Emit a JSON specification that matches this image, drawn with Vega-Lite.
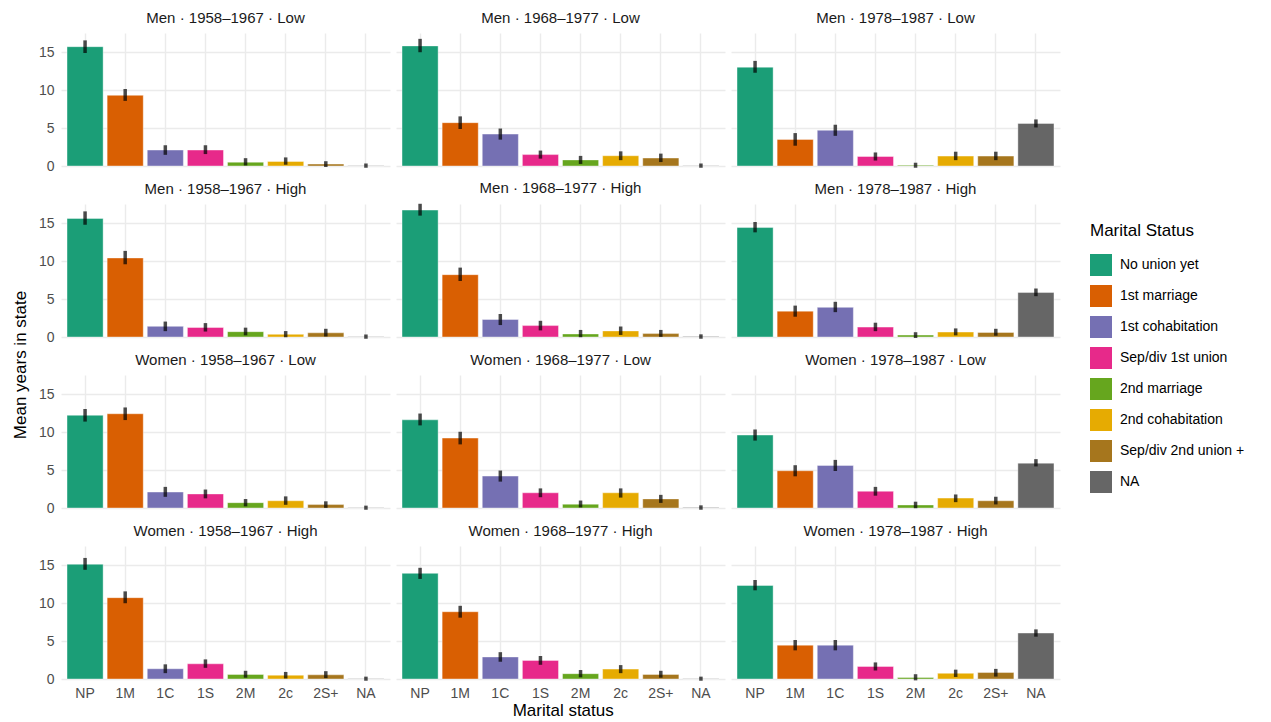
{
  "$schema": "https://vega.github.io/schema/vega-lite/v6.json",
  "padding": {"left": 12, "top": 11, "right": 5, "bottom": 0},
  "background": "white",
  "title": {"text": "Mean years in state", "orient": "left", "anchor": "middle", "fontSize": 17, "fontWeight": "normal", "color": "#000000", "offset": 8, "font": "Liberation Sans"},
  "datasets": {
    "states": [
      {"code": "NP", "status": "No union yet"},
      {"code": "1M", "status": "1st marriage"},
      {"code": "1C", "status": "1st cohabitation"},
      {"code": "1S", "status": "Sep/div 1st union"},
      {"code": "2M", "status": "2nd marriage"},
      {"code": "2c", "status": "2nd cohabitation"},
      {"code": "2S+", "status": "Sep/div 2nd union +"},
      {"code": "NA", "status": "NA"}
    ],
    "main": [
      {"panel": "Men · 1958–1967 · Low", "code": "NP", "mean": 15.7, "lo": 15.1, "hi": 16.3},
      {"panel": "Men · 1958–1967 · Low", "code": "1M", "mean": 9.3, "lo": 8.8, "hi": 9.9},
      {"panel": "Men · 1958–1967 · Low", "code": "1C", "mean": 2.1, "lo": 1.7, "hi": 2.5},
      {"panel": "Men · 1958–1967 · Low", "code": "1S", "mean": 2.1, "lo": 1.8, "hi": 2.5},
      {"panel": "Men · 1958–1967 · Low", "code": "2M", "mean": 0.5, "lo": 0.3, "hi": 0.8},
      {"panel": "Men · 1958–1967 · Low", "code": "2c", "mean": 0.6, "lo": 0.4, "hi": 0.9},
      {"panel": "Men · 1958–1967 · Low", "code": "2S+", "mean": 0.25, "lo": 0.1, "hi": 0.4},
      {"panel": "Men · 1958–1967 · Low", "code": "NA", "mean": 0.02, "lo": 0, "hi": 0.1},

      {"panel": "Men · 1968–1977 · Low", "code": "NP", "mean": 15.8, "lo": 15.2, "hi": 16.5},
      {"panel": "Men · 1968–1977 · Low", "code": "1M", "mean": 5.7, "lo": 5.1, "hi": 6.3},
      {"panel": "Men · 1968–1977 · Low", "code": "1C", "mean": 4.2, "lo": 3.7, "hi": 4.7},
      {"panel": "Men · 1968–1977 · Low", "code": "1S", "mean": 1.5, "lo": 1.2, "hi": 1.8},
      {"panel": "Men · 1968–1977 · Low", "code": "2M", "mean": 0.8, "lo": 0.5, "hi": 1.1},
      {"panel": "Men · 1968–1977 · Low", "code": "2c", "mean": 1.35, "lo": 1.0, "hi": 1.7},
      {"panel": "Men · 1968–1977 · Low", "code": "2S+", "mean": 1.05, "lo": 0.75, "hi": 1.4},
      {"panel": "Men · 1968–1977 · Low", "code": "NA", "mean": 0.03, "lo": 0, "hi": 0.1},

      {"panel": "Men · 1978–1987 · Low", "code": "NP", "mean": 13.0, "lo": 12.5, "hi": 13.6},
      {"panel": "Men · 1978–1987 · Low", "code": "1M", "mean": 3.5, "lo": 2.9, "hi": 4.1},
      {"panel": "Men · 1978–1987 · Low", "code": "1C", "mean": 4.7, "lo": 4.2, "hi": 5.2},
      {"panel": "Men · 1978–1987 · Low", "code": "1S", "mean": 1.25, "lo": 0.95, "hi": 1.55},
      {"panel": "Men · 1978–1987 · Low", "code": "2M", "mean": 0.1, "lo": 0, "hi": 0.2},
      {"panel": "Men · 1978–1987 · Low", "code": "2c", "mean": 1.3, "lo": 1.0, "hi": 1.65},
      {"panel": "Men · 1978–1987 · Low", "code": "2S+", "mean": 1.3, "lo": 1.0, "hi": 1.65},
      {"panel": "Men · 1978–1987 · Low", "code": "NA", "mean": 5.6, "lo": 5.3, "hi": 5.9},

      {"panel": "Men · 1958–1967 · High", "code": "NP", "mean": 15.6, "lo": 15.0, "hi": 16.3},
      {"panel": "Men · 1958–1967 · High", "code": "1M", "mean": 10.4, "lo": 9.8, "hi": 11.1},
      {"panel": "Men · 1958–1967 · High", "code": "1C", "mean": 1.4, "lo": 1.0, "hi": 1.8},
      {"panel": "Men · 1958–1967 · High", "code": "1S", "mean": 1.25, "lo": 0.95, "hi": 1.6},
      {"panel": "Men · 1958–1967 · High", "code": "2M", "mean": 0.7, "lo": 0.45, "hi": 1.0},
      {"panel": "Men · 1958–1967 · High", "code": "2c", "mean": 0.35, "lo": 0.2, "hi": 0.55},
      {"panel": "Men · 1958–1967 · High", "code": "2S+", "mean": 0.55, "lo": 0.3, "hi": 0.85},
      {"panel": "Men · 1958–1967 · High", "code": "NA", "mean": 0.02, "lo": 0, "hi": 0.1},

      {"panel": "Men · 1968–1977 · High", "code": "NP", "mean": 16.7, "lo": 16.2, "hi": 17.3},
      {"panel": "Men · 1968–1977 · High", "code": "1M", "mean": 8.2, "lo": 7.6, "hi": 8.9},
      {"panel": "Men · 1968–1977 · High", "code": "1C", "mean": 2.3, "lo": 1.8, "hi": 2.8},
      {"panel": "Men · 1968–1977 · High", "code": "1S", "mean": 1.5, "lo": 1.1, "hi": 1.9},
      {"panel": "Men · 1968–1977 · High", "code": "2M", "mean": 0.4, "lo": 0.2, "hi": 0.7},
      {"panel": "Men · 1968–1977 · High", "code": "2c", "mean": 0.8, "lo": 0.5, "hi": 1.15},
      {"panel": "Men · 1968–1977 · High", "code": "2S+", "mean": 0.45, "lo": 0.25, "hi": 0.7},
      {"panel": "Men · 1968–1977 · High", "code": "NA", "mean": 0.05, "lo": 0, "hi": 0.12},

      {"panel": "Men · 1978–1987 · High", "code": "NP", "mean": 14.4, "lo": 14.0, "hi": 14.9},
      {"panel": "Men · 1978–1987 · High", "code": "1M", "mean": 3.4, "lo": 2.9, "hi": 3.9},
      {"panel": "Men · 1978–1987 · High", "code": "1C", "mean": 3.9, "lo": 3.5, "hi": 4.4},
      {"panel": "Men · 1978–1987 · High", "code": "1S", "mean": 1.3, "lo": 1.0, "hi": 1.65},
      {"panel": "Men · 1978–1987 · High", "code": "2M", "mean": 0.25, "lo": 0.1, "hi": 0.4},
      {"panel": "Men · 1978–1987 · High", "code": "2c", "mean": 0.65, "lo": 0.45, "hi": 0.9},
      {"panel": "Men · 1978–1987 · High", "code": "2S+", "mean": 0.6, "lo": 0.4, "hi": 0.85},
      {"panel": "Men · 1978–1987 · High", "code": "NA", "mean": 5.85, "lo": 5.6, "hi": 6.15},

      {"panel": "Women · 1958–1967 · Low", "code": "NP", "mean": 12.2, "lo": 11.6, "hi": 12.8},
      {"panel": "Women · 1958–1967 · Low", "code": "1M", "mean": 12.4, "lo": 11.8, "hi": 13.0},
      {"panel": "Women · 1958–1967 · Low", "code": "1C", "mean": 2.1, "lo": 1.7, "hi": 2.55},
      {"panel": "Women · 1958–1967 · Low", "code": "1S", "mean": 1.85, "lo": 1.5, "hi": 2.2},
      {"panel": "Women · 1958–1967 · Low", "code": "2M", "mean": 0.7, "lo": 0.45, "hi": 0.95},
      {"panel": "Women · 1958–1967 · Low", "code": "2c", "mean": 0.95, "lo": 0.65, "hi": 1.3},
      {"panel": "Women · 1958–1967 · Low", "code": "2S+", "mean": 0.45, "lo": 0.25, "hi": 0.65},
      {"panel": "Women · 1958–1967 · Low", "code": "NA", "mean": 0.02, "lo": 0, "hi": 0.08},

      {"panel": "Women · 1968–1977 · Low", "code": "NP", "mean": 11.6, "lo": 11.1, "hi": 12.2},
      {"panel": "Women · 1968–1977 · Low", "code": "1M", "mean": 9.2, "lo": 8.6, "hi": 9.8},
      {"panel": "Women · 1968–1977 · Low", "code": "1C", "mean": 4.2, "lo": 3.7, "hi": 4.7},
      {"panel": "Women · 1968–1977 · Low", "code": "1S", "mean": 2.0, "lo": 1.65, "hi": 2.35},
      {"panel": "Women · 1968–1977 · Low", "code": "2M", "mean": 0.5, "lo": 0.3, "hi": 0.75},
      {"panel": "Women · 1968–1977 · Low", "code": "2c", "mean": 2.0, "lo": 1.6, "hi": 2.35},
      {"panel": "Women · 1968–1977 · Low", "code": "2S+", "mean": 1.2, "lo": 0.9, "hi": 1.5},
      {"panel": "Women · 1968–1977 · Low", "code": "NA", "mean": 0.05, "lo": 0, "hi": 0.12},

      {"panel": "Women · 1978–1987 · Low", "code": "NP", "mean": 9.6, "lo": 9.1, "hi": 10.1},
      {"panel": "Women · 1978–1987 · Low", "code": "1M", "mean": 4.9, "lo": 4.4, "hi": 5.4},
      {"panel": "Women · 1978–1987 · Low", "code": "1C", "mean": 5.6, "lo": 5.1, "hi": 6.1},
      {"panel": "Women · 1978–1987 · Low", "code": "1S", "mean": 2.2, "lo": 1.85, "hi": 2.55},
      {"panel": "Women · 1978–1987 · Low", "code": "2M", "mean": 0.4, "lo": 0.2, "hi": 0.6},
      {"panel": "Women · 1978–1987 · Low", "code": "2c", "mean": 1.3, "lo": 1.0, "hi": 1.55},
      {"panel": "Women · 1978–1987 · Low", "code": "2S+", "mean": 0.95, "lo": 0.7, "hi": 1.25},
      {"panel": "Women · 1978–1987 · Low", "code": "NA", "mean": 5.9, "lo": 5.7, "hi": 6.2},

      {"panel": "Women · 1958–1967 · High", "code": "NP", "mean": 15.1, "lo": 14.6, "hi": 15.7},
      {"panel": "Women · 1958–1967 · High", "code": "1M", "mean": 10.7, "lo": 10.2, "hi": 11.3},
      {"panel": "Women · 1958–1967 · High", "code": "1C", "mean": 1.35, "lo": 1.0, "hi": 1.7},
      {"panel": "Women · 1958–1967 · High", "code": "1S", "mean": 2.0, "lo": 1.7, "hi": 2.35},
      {"panel": "Women · 1958–1967 · High", "code": "2M", "mean": 0.6, "lo": 0.4, "hi": 0.85},
      {"panel": "Women · 1958–1967 · High", "code": "2c", "mean": 0.5, "lo": 0.3, "hi": 0.7},
      {"panel": "Women · 1958–1967 · High", "code": "2S+", "mean": 0.55, "lo": 0.35, "hi": 0.8},
      {"panel": "Women · 1958–1967 · High", "code": "NA", "mean": 0.02, "lo": 0, "hi": 0.08},

      {"panel": "Women · 1968–1977 · High", "code": "NP", "mean": 13.9, "lo": 13.4, "hi": 14.4},
      {"panel": "Women · 1968–1977 · High", "code": "1M", "mean": 8.85, "lo": 8.3, "hi": 9.4},
      {"panel": "Women · 1968–1977 · High", "code": "1C", "mean": 2.9, "lo": 2.5, "hi": 3.3},
      {"panel": "Women · 1968–1977 · High", "code": "1S", "mean": 2.45, "lo": 2.1, "hi": 2.8},
      {"panel": "Women · 1968–1977 · High", "code": "2M", "mean": 0.7, "lo": 0.45, "hi": 0.95},
      {"panel": "Women · 1968–1977 · High", "code": "2c", "mean": 1.3, "lo": 1.0, "hi": 1.6},
      {"panel": "Women · 1968–1977 · High", "code": "2S+", "mean": 0.6, "lo": 0.4, "hi": 0.85},
      {"panel": "Women · 1968–1977 · High", "code": "NA", "mean": 0.03, "lo": 0, "hi": 0.08},

      {"panel": "Women · 1978–1987 · High", "code": "NP", "mean": 12.3, "lo": 11.9, "hi": 12.8},
      {"panel": "Women · 1978–1987 · High", "code": "1M", "mean": 4.45, "lo": 4.0, "hi": 4.9},
      {"panel": "Women · 1978–1987 · High", "code": "1C", "mean": 4.45, "lo": 4.0, "hi": 4.9},
      {"panel": "Women · 1978–1987 · High", "code": "1S", "mean": 1.65, "lo": 1.35, "hi": 1.95},
      {"panel": "Women · 1978–1987 · High", "code": "2M", "mean": 0.2, "lo": 0.05, "hi": 0.4},
      {"panel": "Women · 1978–1987 · High", "code": "2c", "mean": 0.75, "lo": 0.5, "hi": 1.0},
      {"panel": "Women · 1978–1987 · High", "code": "2S+", "mean": 0.85, "lo": 0.55, "hi": 1.1},
      {"panel": "Women · 1978–1987 · High", "code": "NA", "mean": 6.05, "lo": 5.8, "hi": 6.3}
    ]
  },
  "vconcat": [
    {
      "title": {"text": "Marital status", "orient": "bottom", "anchor": "middle", "fontSize": 17, "fontWeight": "normal", "color": "#000000", "offset": 3, "dx": 14, "font": "Liberation Sans"},
      "data": {"name": "main"},
      "transform": [
        {"lookup": "code", "from": {"data": {"name": "states"}, "key": "code", "fields": ["status"]}}
      ],
      "facet": {
        "field": "panel",
        "type": "nominal",
        "sort": [
          "Men · 1958–1967 · Low", "Men · 1968–1977 · Low", "Men · 1978–1987 · Low",
          "Men · 1958–1967 · High", "Men · 1968–1977 · High", "Men · 1978–1987 · High",
          "Women · 1958–1967 · Low", "Women · 1968–1977 · Low", "Women · 1978–1987 · Low",
          "Women · 1958–1967 · High", "Women · 1968–1977 · High", "Women · 1978–1987 · High"
        ],
        "header": {
          "title": null,
          "labelFontSize": 15,
          "labelColor": "#1a1a1a",
          "labelFont": "Liberation Sans",
          "labelPadding": 7
        }
      },
      "columns": 3,
      "spacing": {"column": 6, "row": 12},
      "spec": {
        "width": 329,
        "height": 133,
        "layer": [
          {
            "mark": {"type": "bar", "stroke": "white", "strokeWidth": 0.8, "strokeOpacity": 0.5},
            "encoding": {
              "x": {
                "field": "code",
                "type": "nominal",
                "sort": ["NP", "1M", "1C", "1S", "2M", "2c", "2S+", "NA"],
                "scale": {"paddingInner": 0.1, "paddingOuter": 0.15},
                "title": null,
                "axis": {
                  "grid": true,
                  "bandPosition": 0.5,
                  "labelAngle": 0
                }
              },
              "y": {
                "field": "mean",
                "type": "quantitative",
                "scale": {"domain": [0, 17.5], "nice": false, "zero": true},
                "title": null,
                "axis": {
                  "values": [0, 2.5, 5, 7.5, 10, 12.5, 15, 17.5],
                  "labelExpr": "datum.value % 5 === 0 ? datum.label : ''",
                  "labelPadding": 7,
                  "gridWidth": {"condition": {"test": "datum.value % 5 === 0", "value": 1.4}, "value": 0.7}
                }
              },
              "color": {
                "field": "status",
                "type": "nominal",
                "sort": ["No union yet", "1st marriage", "1st cohabitation", "Sep/div 1st union", "2nd marriage", "2nd cohabitation", "Sep/div 2nd union +", "NA"],
                "scale": {
                  "domain": ["No union yet", "1st marriage", "1st cohabitation", "Sep/div 1st union", "2nd marriage", "2nd cohabitation", "Sep/div 2nd union +", "NA"],
                  "range": ["#1B9E77", "#D95F02", "#7570B3", "#E7298A", "#66A61E", "#E6AB02", "#A6761D", "#666666"]
                },
                "title": "Marital Status",
                "legend": {
                  "orient": "none",
                  "legendX": 1029,
                  "legendY": 190
                }
              }
            }
          },
          {
            "mark": {"type": "rule", "color": "black", "strokeWidth": 3.5, "opacity": 0.7, "strokeCap": "square"},
            "encoding": {
              "x": {"field": "code", "type": "nominal", "sort": ["NP", "1M", "1C", "1S", "2M", "2c", "2S+", "NA"]},
              "y": {"field": "lo", "type": "quantitative"},
              "y2": {"field": "hi"}
            }
          }
        ]
      }
    }
  ],
  "config": {
    "font": "Liberation Sans",
    "view": {"stroke": null},
    "axis": {
      "domain": false,
      "ticks": false,
      "gridColor": "#ebebeb",
      "gridWidth": 1.4,
      "labelFontSize": 14,
      "labelColor": "#4d4d4d",
      "labelPadding": 4
    },
    "legend": {
      "titleFontSize": 17,
      "titleFontWeight": "normal",
      "titleColor": "#000000",
      "titlePadding": 14,
      "labelFontSize": 14,
      "labelColor": "#000000",
      "symbolType": "square",
      "symbolSize": 484,
      "symbolStrokeWidth": 0,
      "symbolOpacity": 1,
      "rowPadding": 9,
      "labelOffset": 8
    }
  }
}
